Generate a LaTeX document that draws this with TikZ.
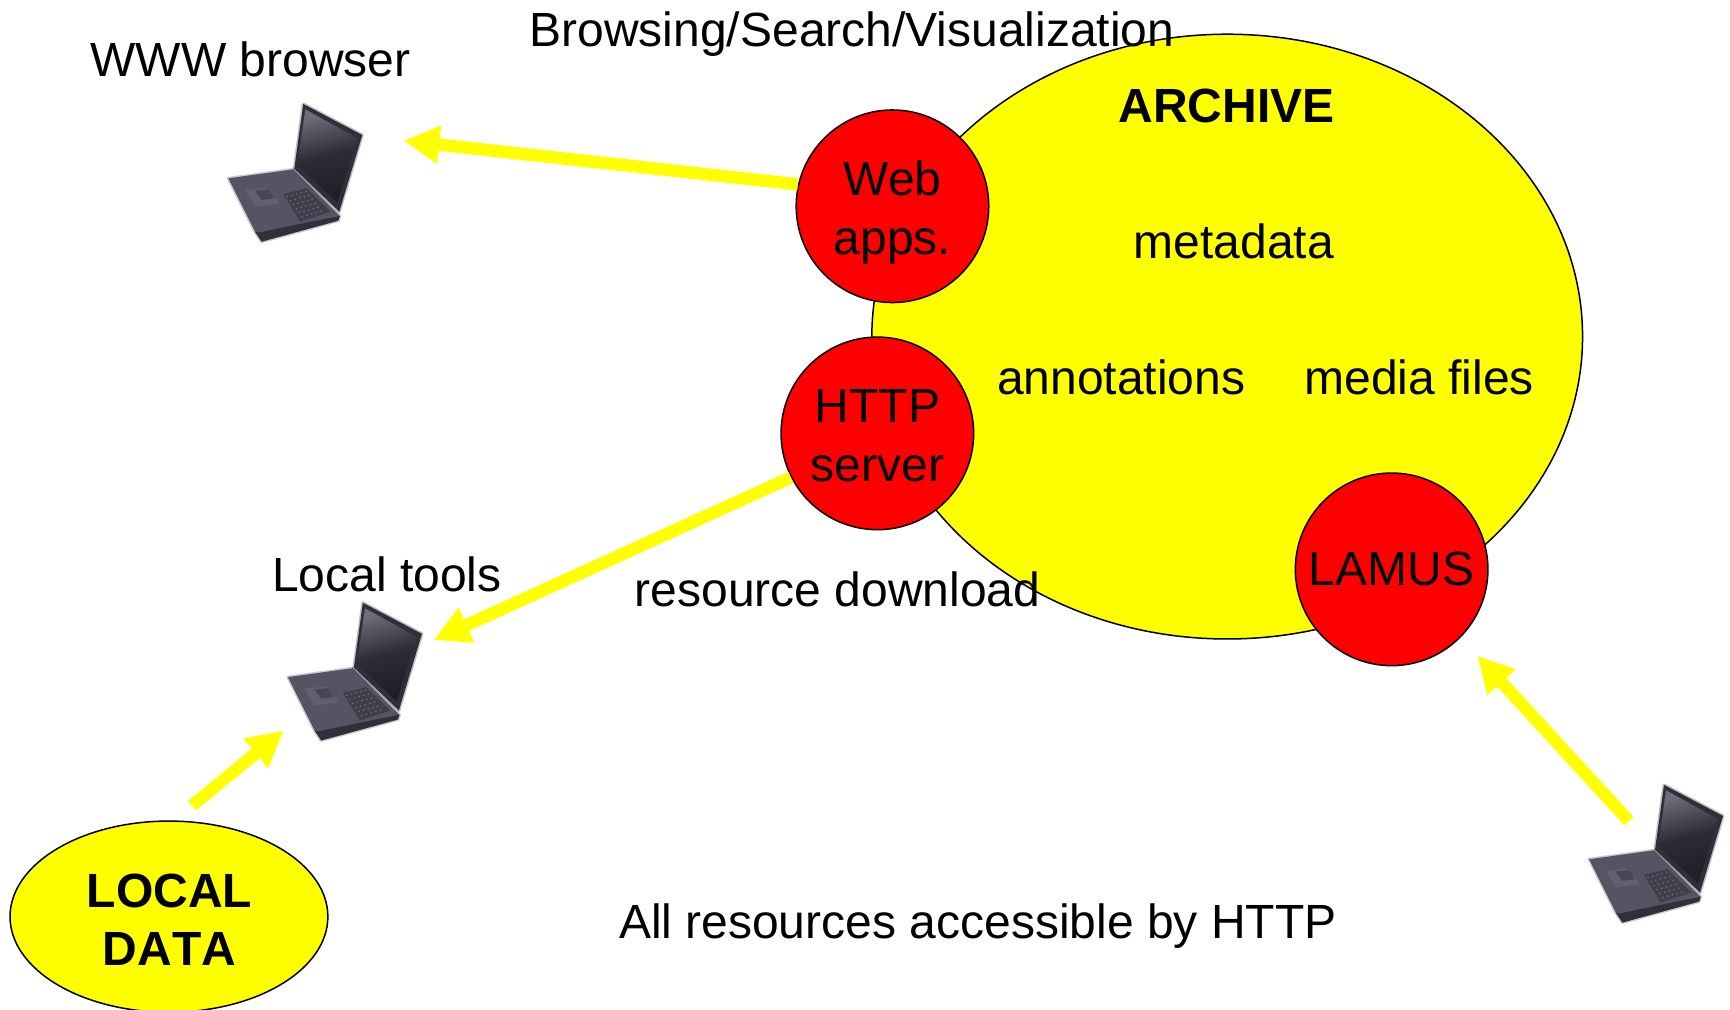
\documentclass[tikz,border=0pt]{standalone}
\usepackage{fontspec}
\setmainfont{Liberation Sans}
\usetikzlibrary{arrows.meta}
\definecolor{arcyellow}{RGB}{255,255,0}
\definecolor{srvred}{RGB}{255,0,0}
\definecolor{lapbase}{RGB}{84,84,100}
\definecolor{lapdark}{RGB}{42,42,52}
\definecolor{lapscreen}{RGB}{30,30,38}
\definecolor{lapkey}{RGB}{112,112,128}
\tikzset{
  srv/.style={circle,draw=black,line width=0.75pt,fill=srvred,minimum size=96.3pt,inner sep=0pt},
  srvtext/.style={inner sep=0pt,align=center,font=\fontsize{24}{29.4}\selectfont},
  lbl/.style={font=\fontsize{24}{29}\selectfont,inner sep=0pt},
  blbl/.style={font=\fontsize{24}{29}\selectfont\bfseries,inner sep=0pt,align=center},
  flow/.style={draw=arcyellow,line width=6.2pt,-{Triangle[length=18pt,width=18pt]}},
  laptop/.pic={
    \begin{scope}[scale=0.302,line join=round]
      \fill[lapbase,draw=lapbase,draw opacity=0.3,line width=1.5pt] (85,265) -- (280,238) -- (420,378) -- (415,392) -- (185,455) -- (165,425) -- cycle;
      \fill[lapdark,opacity=0.85] (165,425) -- (185,455) -- (415,392) -- (420,378) -- (300,402) -- (175,428) -- cycle;
      \fill[lapbase!93!white] (135,300) -- (195,293) -- (240,340) -- (165,350) -- cycle;
      \fill[lapbase!85!black] (165,302) -- (205,298) -- (222,325) -- (185,330) -- cycle;
      \fill[lapbase!75!black] (250,312) -- (320,295) -- (392,365) -- (300,395) -- cycle;
      \foreach \i in {0,...,5}{\foreach \j in {0,...,4}{
        \fill[lapkey] ({262+\i*9+\j*14},{320+\i*12-\j*4}) circle (2.6);}}
      \fill[lapdark!85!lapbase,draw=lapdark,draw opacity=0.3,line width=1.5pt] (310,42) -- (487,135) -- (418,365) -- (283,236) -- cycle;
      \shade[top color=lapbase!85!white,bottom color=lapscreen,middle color=lapscreen!75!lapbase,shading angle=15] (316,58) -- (472,145) -- (412,338) -- (292,226) -- cycle;
    \end{scope}
  }
}
\begin{document}
\begin{tikzpicture}[x=0.5518pt,y=-0.5518pt]
\useasboundingbox (0,0) rectangle (1567.6,915.2);
\begin{scope}
\clip (0,0) rectangle (1567.6,915.2);
\fill[draw=black,line width=0.75pt,fill=arcyellow] (1112,305) ellipse [x radius=322,y radius=274];
\fill[draw=black,line width=0.75pt,fill=arcyellow] (153.1,830.6) ellipse [x radius=144,y radius=86.6];
\end{scope}
\node[srv] (web) at (808.7,186.9) {};
\node[srv] (http) at (795,392.7) {};
\node[srv] (lamus) at (1261,515.9) {};
\node[srvtext] (webtext) at (808.7,192.5) {Web\\apps.};
\node[srvtext] (httptext) at (795,394.5) {HTTP\\server};
\node[srvtext] (lamustext) at (1261,516) {LAMUS};
\pic at (181.2,81.55) {laptop};
\pic at (235.2,533.55) {laptop};
\pic at (1414.2,698.55) {laptop};
\node[blbl] (archive) at (1111.5,96) {ARCHIVE};
\node[lbl] (metadata) at (1118,219) {metadata};
\node[lbl] (annot) at (1016,342) {annotations};
\node[lbl] (media) at (1286,342) {media files};
\node[lbl] (browse) at (772,31) {Browsing/Search/Visualization};
\node[lbl] (www) at (227,54) {WWW browser};
\node[lbl] (ltools) at (350.5,520) {Local tools};
\node[lbl] (dl) at (759,534) {resource download};
\node[lbl] (allres) at (886,839) {All resources accessible by HTTP};
\node[blbl] (local) at (153.5,833.5) {LOCAL\\{\addfontfeatures{Kerning=Off}DATA}};
\coordinate (wwwend) at (365.5,127.5);
\coordinate (toolsend) at (393,580);
\coordinate (localstart) at (174,730);
\coordinate (localend) at (257,662);
\coordinate (lamstart) at (1476,744);
\coordinate (lamend) at (1338.6,594.2);
\draw[flow] (web.167) -- (wwwend);
\draw[flow] (http.207) -- (toolsend);
\draw[flow] (localstart) -- (localend);
\draw[flow] (lamstart) -- (lamend);
\end{tikzpicture}
\end{document}
